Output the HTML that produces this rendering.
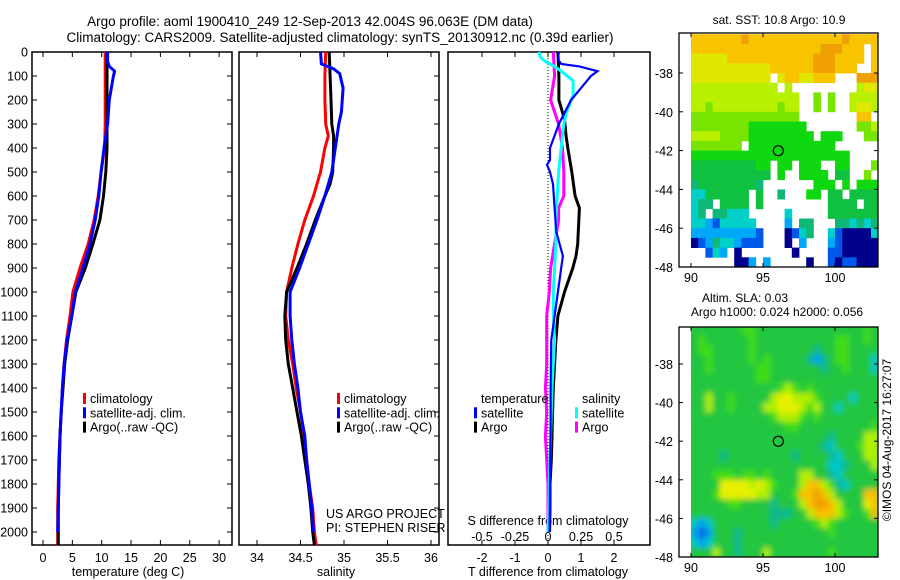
<!DOCTYPE html>
<html><head><meta charset="utf-8">
<style>
html,body{margin:0;padding:0;background:#fff;overflow:hidden;}
svg{display:block;font-family:"Liberation Sans",sans-serif;}
text{fill:#000;}
</style></head>
<body>
<svg id="fig" width="900" height="580" viewBox="0 0 900 580" xmlns="http://www.w3.org/2000/svg">
<defs>
<filter id="smooth" x="-5%" y="-5%" width="110%" height="110%"><feGaussianBlur stdDeviation="3"/></filter>
<clipPath id="slaClip"><rect x="691" y="327" width="187" height="230"/></clipPath>
</defs>
<text x="310" y="26" font-size="13.5" text-anchor="middle">Argo profile: aoml 1900410_249 12-Sep-2013 42.004S 96.063E (DM data)</text>
<text x="340" y="42" font-size="13.5" text-anchor="middle">Climatology: CARS2009. Satellite-adjusted climatology: synTS_20130912.nc (0.39d earlier)</text>
<text x="779" y="24" font-size="12" text-anchor="middle">sat. SST: 10.8 Argo: 10.9</text>
<text x="745" y="302" font-size="12" text-anchor="middle">Altim. SLA: 0.03</text>
<text x="777" y="316" font-size="12" text-anchor="middle">Argo h1000: 0.024 h2000: 0.056</text>
<text transform="translate(891,440) rotate(-90)" font-size="12" text-anchor="middle">©IMOS 04-Aug-2017 16:27:07</text>
<g id="plots"></g>
</svg>
<script>
// ---------- data ----------
const depthTicks = [0,100,200,300,400,500,600,700,800,900,1000,1100,1200,1300,1400,1500,1600,1700,1800,1900,2000];
const tempTicks = [0,5,10,15,20,25,30];
const salTicks = [34,34.5,35,35.5,36];
const tdiffTicks = [-2,-1,0,1,2];
const sdiffTicks = [-0.5,-0.25,0,0.25,0.5];
const sdiffLabels = ["-0.5","-0.25","0","0.25","0.5"];

const depthStd = [0,100,200,300,400,500,600,700,800,900,1000,1100,1200,1300,1400,1500,1600,1700,1800,1900,2000,2055];
const tempClim = [10.6,10.6,10.6,10.6,10.5,9.9,9.4,8.7,7.7,6.3,5.1,4.6,4.0,3.6,3.3,3.1,2.9,2.7,2.6,2.5,2.5,2.5];
const tempArgo = [10.9,10.9,10.9,10.9,10.9,10.7,10.3,9.7,8.5,7.2,5.6,4.9,4.2,3.7,3.4,3.1,2.9,2.8,2.7,2.6,2.6,2.6];
const tempSatDepth = [0,40,60,80,100,200,300,400,500,600,700,800,900,1000,1100,1200,1300,1400,1500,1600,1700,1800,1900,2000];
const tempSat = [11.0,11.0,11.3,12.2,12.0,11.3,11.0,10.4,9.9,9.5,8.9,8.0,6.8,5.5,4.9,4.1,3.6,3.3,3.1,2.9,2.8,2.7,2.6,2.5];

const salDepth = [0,100,200,300,350,400,500,550,600,700,800,900,1000,1100,1200,1300,1400,1500,1600,1700,1800,1900,2000,2055];
const salClim = [34.79,34.78,34.78,34.79,34.82,34.78,34.73,34.69,34.65,34.55,34.47,34.40,34.34,34.33,34.36,34.41,34.45,34.50,34.54,34.57,34.60,34.64,34.66,34.68];
const salArgo = [34.83,34.84,34.85,34.86,34.88,34.88,34.87,34.84,34.78,34.67,34.57,34.46,34.34,34.32,34.33,34.36,34.41,34.46,34.51,34.55,34.59,34.62,34.64,34.66];
const salSatDepth = [0,50,70,90,150,250,300,400,500,600,700,800,900,1000,1100,1200,1300,1400,1500,1600,1700,1800,1900,2000];
const salSat = [34.73,34.74,34.88,34.95,34.99,34.97,34.94,34.90,34.86,34.78,34.69,34.59,34.49,34.38,34.38,34.40,34.43,34.47,34.50,34.55,34.57,34.60,34.63,34.65];

const dTArgoDepth = [0,100,200,280,350,400,500,600,650,800,850,900,1000,1100,1200,1300,1400,1500,1600,1700,1800,1900,2000];
const dTArgo = [0.30,0.33,0.33,0.50,0.55,0.60,0.72,0.82,0.95,0.90,0.85,0.75,0.50,0.30,0.24,0.20,0.16,0.14,0.12,0.10,0.06,0.06,0.05];
const dTSatDepth = [0,30,50,60,80,100,200,300,400,450,470,500,550,650,750,850,900,1000,1100,1200,1400,1600,1800,2000];
const dTSat = [0.33,0.30,0.40,0.95,1.50,1.30,0.70,0.33,0.06,0.06,-0.03,0.06,0.15,0.20,0.25,0.45,0.40,0.30,0.20,0.10,0.08,0.08,0.06,0.05];
const dSSatDepth = [0,20,40,60,80,120,180,250,300,400,500,600,700,800,1000,1100,1200,1300,1400,1600,1800,2000];
const dSSat = [-0.07,-0.06,-0.02,0.05,0.10,0.19,0.19,0.14,0.12,0.10,0.08,0.07,0.06,0.06,0.04,0.04,0.05,0.04,0.03,0.02,0.01,0.00];
const dSArgoDepth = [0,100,200,250,300,400,500,600,650,700,800,900,1000,1100,1200,1300,1400,1500,1600,1700,1800,1900,2000];
const dSArgo = [0.04,0.05,0.02,0.05,0.08,0.11,0.12,0.12,0.08,0.08,0.05,0.02,0.01,-0.01,-0.01,-0.01,-0.02,-0.01,-0.02,-0.01,0.00,0.00,0.00];

const lonTicks = [90,95,100];
const latTicks = [-38,-40,-42,-44,-46,-48];
const argoLon = 96.063, argoLat = -42.004;

const sstGrid = [
"oooooooOoooooooooooooOoooo",
"ooooooooooooooooooOOOooo.o",
"YYYYYooooooooooooOOOoooo.o",
"YYYYYYYYYYYooooooOOOooo..o",
"YYYYYYYYYYY.YooYYooo...OOO",
"yyyyyyyyyyyy.y.........yYY",
"yyyyyyyyyyyyyyy..L.L..yyyy",
"yyLyyyyyyyyyLyy..L.L..yYYy",
"LLLLLLLLLLLLLLL........oo",
"LLLLLLLLGGGGGGGG.......LLy",
"yyyyLLLLGGGGGGGGG.GGG...LL",
"LLLLLLL.GGGGGGGGGGGG......",
"GGGGGGGGGGGGGGGGGGGGGG....",
"gggggggggGG.GG.GGG..GG...L",
"ggggggggggg.G..GGGG.gg..L.",
"TggggggggT.......GGG.G.GGG",
"ccgggggg.g..T...GG.gg.gggg",
"cTT.gggg.g.........gggg.gg",
"cT.TTccc.....c.....ggggggg",
"ccCBccccc....C.TT...TTcTcT",
"CCCCCCCCCB...NBcT..cBNNNNc",
"NBCTccCBBB...N.C...CBNNNNN",
"..BcC.N.......N....BBNNNNN",
"......NNC.C.....N..BNBBNNN"
];
const slaGrid = [
"gggggggLLgggggggggggggggLg",
"gLggggggLgggggggggggLLggLg",
"gLLgggggLggggggggtggLLgggg",
"ggLgggggLgLgggggtCtgLLgggc",
"ggLggggggLLgggggggtggLgggc",
"gggggggggLLggggggggggggggg",
"ggggggggggggLyLgLggggggggg",
"ggyggLgggggyYYyyyLggggcggg",
"ggyggLggggyyYYYyLyggcggggg",
"gggggggggggLyyyLgLgggggggg",
"gggggggggggggLLggggggggggL",
"gggggggggggggggggggtggggyy",
"ggggggggggggggggggtcgggLyy",
"ggggtgggggggggtggggtcgggyy",
"gggggggggggggggggggcctgggy",
"gggLLLgLLgLggggyyggtcggggg",
"ggggYYYYyYyLgggyooyLtcgggg",
"gggLYYYYYyygggLooOoyggggoo",
"gggggLLggggtgggyoOOoygggYo",
"gggggggggggtttggyoooyLggLo",
"cCcggggggggtgggggLyLgggggg",
"CBCgggtggggggggggggLgggggg",
"cCcgggtggggggggggggggggggg",
"gggyggtgggyggggggggLgggggg"
];
</script>
<script>
const NS="http://www.w3.org/2000/svg";
const root=document.getElementById('plots');
function mk(tag,attrs,parent){const e=document.createElementNS(NS,tag);for(const k in attrs)e.setAttribute(k,attrs[k]);(parent||root).appendChild(e);return e;}
function txt(s,x,y,anchor,size,parent){const t=mk('text',{x:x,y:y,'text-anchor':anchor||'start','font-size':size||12},parent);t.textContent=s;return t;}

const TOP=52, BOT=545;
const yD = d => TOP + d*0.24;
const xT = t => 43 + t*5.87;
const xS = s => 257 + (s-34)*87;
const xdT = v => 548 + v*33;
const xdS = v => 548 + v*132;

function frame(x0,x1,name){
  const r=mk('rect',{x:x0,y:TOP,width:x1-x0,height:BOT-TOP,fill:'none',stroke:'#000','stroke-width':1.5});
  
  
}
function line(xs,ds,fx,color,w,name){
  const pts=xs.map((v,i)=>fx(v).toFixed(1)+','+yD(ds[i]).toFixed(1)).join(' ');
  const p=mk('polyline',{points:pts,fill:'none',stroke:color,'stroke-width':w,'stroke-linejoin':'miter'});
  
  
}
function xticks(vals,fx,x0,x1,labels,ly,name){
  const g=mk('g',{});
  
  
  vals.forEach((v,i)=>{const x=fx(v);
    mk('line',{x1:x,y1:TOP,x2:x,y2:TOP+5,stroke:'#000'},g);
    mk('line',{x1:x,y1:BOT,x2:x,y2:BOT-5,stroke:'#000'},g);
    if(labels){txt(labels[i],x,ly,'middle',12.5,g);} });
}

frame(32,232,'temperature-panel');
frame(239,439,'salinity-panel');
frame(448,650,'difference-panel');

const dg=mk('g',{});


depthTicks.forEach(d=>{const y=yD(d);
  txt(String(d),28,y+4.5,'end',12.5,dg);
  mk('line',{x1:32,y1:y,x2:37,y2:y,stroke:'#000'},dg);
  mk('line',{x1:232,y1:y,x2:227,y2:y,stroke:'#000'},dg);
  mk('line',{x1:439,y1:y,x2:434,y2:y,stroke:'#000'},dg);
});

xticks(tempTicks,xT,32,232,tempTicks.map(String),562,'temperature-x-axis');
xticks(salTicks,xS,239,439,salTicks.map(String),562,'salinity-x-axis');
xticks(tdiffTicks,xdT,448,650,tdiffTicks.map(String),562,'tdiff-x-axis');
const sl=mk('g',{});


sdiffTicks.forEach((v,i)=>txt(sdiffLabels[i],xdS(v),541,'middle',12.5,sl));

let t;
t=txt('temperature (deg C)',128,576,'middle',12.5);


t=txt('salinity',336,576,'middle',12.5);


t=txt('T difference from climatology',548,576,'middle',12.5);


t=txt('S difference from climatology',548,525,'middle',12.5);



const z=mk('line',{x1:xdT(0),y1:TOP,x2:xdT(0),y2:BOT,stroke:'#000','stroke-dasharray':'1,2'});



line(tempClim,depthStd,xT,'#ff0000',3,'temp-climatology-line');
line(tempArgo,depthStd,xT,'#000000',3,'temp-argo-line');
line(tempSat,tempSatDepth,xT,'#0000ff',3,'temp-satellite-line');
line(salClim,salDepth,xS,'#ff0000',3,'sal-climatology-line');
line(salArgo,salDepth,xS,'#000000',3,'sal-argo-line');
line(salSat,salSatDepth,xS,'#0000ff',3,'sal-satellite-line');
line(dSArgo,dSArgoDepth,xdS,'#ff00ff',3,'sdiff-argo-line');
line(dTArgo,dTArgoDepth,xdT,'#000000',3,'tdiff-argo-line');
line(dSSat,dSSatDepth,xdS,'#00ffff',3,'sdiff-satellite-line');
line(dTSat,dTSatDepth,xdT,'#0000ff',2.2,'tdiff-satellite-line');

function legend(x,y,items,name){
  const g=mk('g',{});
  
  
  items.forEach((it,i)=>{
    if(it[1]) mk('rect',{x:x,y:y+i*14.3-10,width:3,height:11,fill:it[1]},g);
    txt(it[0],x+(it[1]?7:0),y+i*14.3,'start',12.5,g);
  });
}
legend(83,403,[['climatology','#ff0000'],['satellite-adj. clim.','#0000ff'],['Argo(..raw -QC)','#000']],'temperature-legend');
legend(337,403,[['climatology','#ff0000'],['satellite-adj. clim.','#0000ff'],['Argo(..raw -QC)','#000']],'salinity-legend');
legend(474,403,[['',null],['satellite','#0000ff'],['Argo','#000']],'tdiff-legend');
t=txt('temperature',481,403,'start',12.5);


legend(575,403,[['',null],['satellite','#00ffff'],['Argo','#ff00ff']],'sdiff-legend');
t=txt('salinity',582,403,'start',12.5);


t=txt('US ARGO PROJECT',326,518,'start',12.5);


t=txt('PI: STEPHEN RISER',326,532,'start',12.5);



const sstColors={O:'#f0a000',o:'#f8c400',Y:'#e0e800',y:'#b8f000',L:'#78e400',G:'#10d810',g:'#10c040',T:'#10b878',c:'#00d0c8',C:'#00a8f8',B:'#0058e8',N:'#00008c'};
const slaColors={g:'#22c640',L:'#40dc18',y:'#b0f000',Y:'#e8f000',o:'#f8c000',O:'#f0a000',t:'#10b890',c:'#00c8c8',C:'#00a0f0',B:'#0060e0'};
function map(top,bottom,scale,grid,colors,name,smooth){
  const x0=679,x1=878;
  const xL=lon=>691+(lon-90)*14.4;
  const yL=lat=>bottom-(lat+48)*scale;
  const g=mk('g',{});
  
  
  let cg=g;
  if(smooth){
    const clip=mk('g',{'clip-path':'url(#slaClip)'},g);
    cg=mk('g',{filter:'url(#smooth)'},clip);
    mk('rect',{x:681,y:top-10,width:207,height:bottom-top+20,fill:colors.g},cg);
  }
  grid.forEach((row,r)=>{
    for(let c=0;c<row.length;c++){
      const ch=row[c]; if(!colors[ch]) continue;
      const lonA=90+c*0.5, latA=-36-r*0.5;
      const xa=xL(lonA), xb=smooth?xL(lonA+0.5):Math.min(xL(lonA+0.5),x1);
      const ya=smooth?yL(latA):Math.max(yL(latA),top), yb=smooth?yL(latA-0.5):Math.min(yL(latA-0.5),bottom);
      mk('rect',{x:xa.toFixed(1),y:ya.toFixed(1),width:(xb-xa+0.4).toFixed(1),height:(yb-ya+0.4).toFixed(1),fill:colors[ch]},cg);
    }
  });
  mk('rect',{x:x0,y:top,width:x1-x0,height:bottom-top,fill:'none',stroke:'#000','stroke-width':1.3},g);
  lonTicks.forEach(v=>{const x=xL(v);
    mk('line',{x1:x,y1:bottom,x2:x,y2:bottom-4,stroke:'#000'},g);
    mk('line',{x1:x,y1:top,x2:x,y2:top+4,stroke:'#000'},g);
    txt(String(v),x,bottom+15,'middle',12.5,g);});
  latTicks.forEach(v=>{const y=yL(v);
    mk('line',{x1:x0,y1:y,x2:x0+4,y2:y,stroke:'#000'},g);
    mk('line',{x1:x1,y1:y,x2:x1-4,y2:y,stroke:'#000'},g);
    txt(String(v),673,y+5,'end',12.5,g);});
  const circ=mk('circle',{cx:xL(argoLon),cy:yL(argoLat),r:5,fill:'none',stroke:'#000','stroke-width':1.2},g);
  
  
}
map(33,267,19.4,sstGrid,sstColors,'sst-map',false);
map(327,557,19.3,slaGrid,slaColors,'sla-map',true);
</script>
</body></html>
